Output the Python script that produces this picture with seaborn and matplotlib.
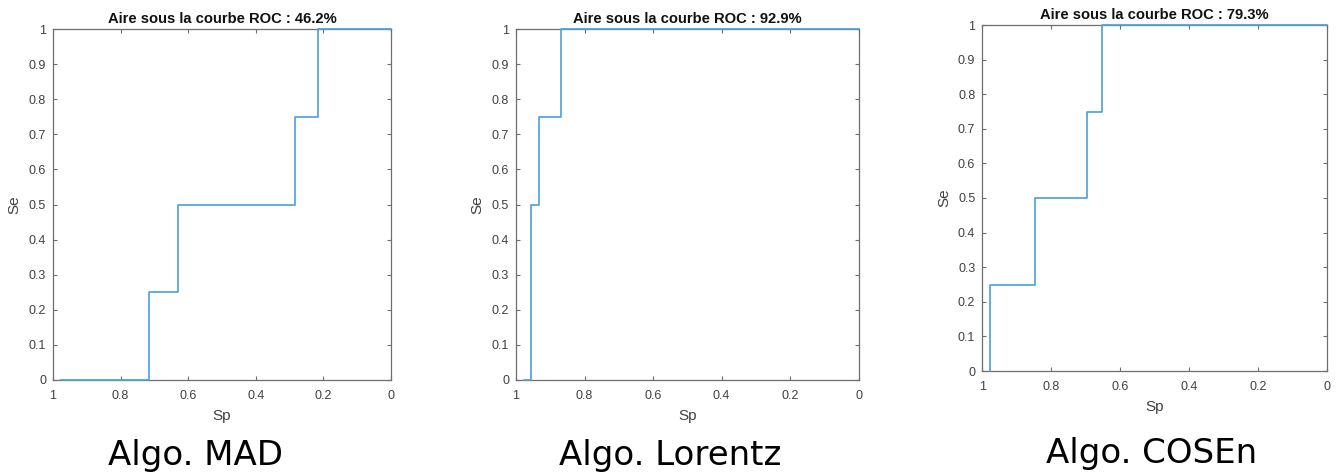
import matplotlib
matplotlib.use("Agg")
import matplotlib.pyplot as plt
import seaborn as sns
import pandas as pd

sns.set_theme(style="white")
plt.rcParams['font.family'] = ['Liberation Sans', 'DejaVu Sans']

# ROC points (specificity, sensitivity), drawn as steps
titles = ["Aire sous la courbe ROC : 46.2%",
          "Aire sous la courbe ROC : 92.9%",
          "Aire sous la courbe ROC : 79.3%"]
captions = ["Algo. MAD", "Algo. Lorentz", "Algo. COSEn"]

sp_mad = [0.98, 0.716, 0.63, 0.283, 0.217, 0.0]
se_mad = [0.0, 0.25, 0.5, 0.75, 1.0, 1.0]

sp_lorentz = [0.977, 0.956, 0.934, 0.869, 0.0]
se_lorentz = [0.0, 0.5, 0.75, 1.0, 1.0]

sp_cosen = [0.978, 0.978, 0.847, 0.696, 0.652, 0.0]
se_cosen = [0.0, 0.25, 0.5, 0.75, 1.0, 1.0]

xticks = [1, 0.8, 0.6, 0.4, 0.2, 0]
xticklabels = ["1", "0.8", "0.6", "0.4", "0.2", "0"]
yticks = [0, 0.1, 0.2, 0.3, 0.4, 0.5, 0.6, 0.7, 0.8, 0.9, 1]
yticklabels = ["0", "0.1", "0.2", "0.3", "0.4", "0.5", "0.6", "0.7", "0.8", "0.9", "1"]

series = [(sp_mad, se_mad), (sp_lorentz, se_lorentz), (sp_cosen, se_cosen)]

W, H = 1338, 476
fig = plt.figure(figsize=(W / 100, H / 100), dpi=100)

# axes boxes in pixels: left, top, right, bottom
boxes = [(53, 29, 391, 380), (516, 29, 858.7, 380), (982.3, 25, 1327.3, 371)]
caption_pos = [(196, 455), (670, 455), (1152, 453)]

line_color = "#4a9fdc"
axis_color = "#6e6e6e"
text_color = "#404040"

for i, ((sp, se), (l, t, r, b)) in enumerate(zip(series, boxes)):
    ax = fig.add_axes([l / W, 1 - b / H, (r - l) / W, (b - t) / H])
    df = pd.DataFrame({"Sp": sp, "Se": se})
    sns.lineplot(data=df, x="Sp", y="Se", ax=ax, sort=False, estimator=None,
                 drawstyle="steps-post", color=line_color, linewidth=1.2)
    for ln in ax.lines:
        ln.set_clip_on(False)
        ln.set_zorder(5)
    ax.set_xlim(1, 0)
    ax.set_ylim(0, 1)
    ax.set_xticks(xticks)
    ax.set_xticklabels(xticklabels)
    ax.set_yticks(yticks)
    ax.set_yticklabels(yticklabels)
    ax.tick_params(axis="both", direction="in", length=3, width=0.8, colors=axis_color,
                   labelcolor=text_color, labelsize=9, top=True, right=True,
                   bottom=True, left=True)
    ax.tick_params(axis="x", pad=7)
    ax.tick_params(axis="y", pad=5)
    for s in ax.spines.values():
        s.set_color(axis_color)
        s.set_linewidth(0.9)
        s.set_visible(True)
    ax.set_xlabel("Sp", fontsize=11, color=text_color, labelpad=5)
    ax.set_ylabel("Se", fontsize=11, color=text_color, labelpad=5)
    ax.set_title(titles[i], fontsize=10.6, fontweight="bold", color="#111111", pad=4)
    ax.grid(False)
    cx, cy = caption_pos[i]
    fig.text(cx / W, 1 - cy / H, captions[i], ha="center", va="center",
             fontsize=24.5, family="DejaVu Sans", color="black")

fig.savefig("out.png", dpi=100, facecolor="white")
